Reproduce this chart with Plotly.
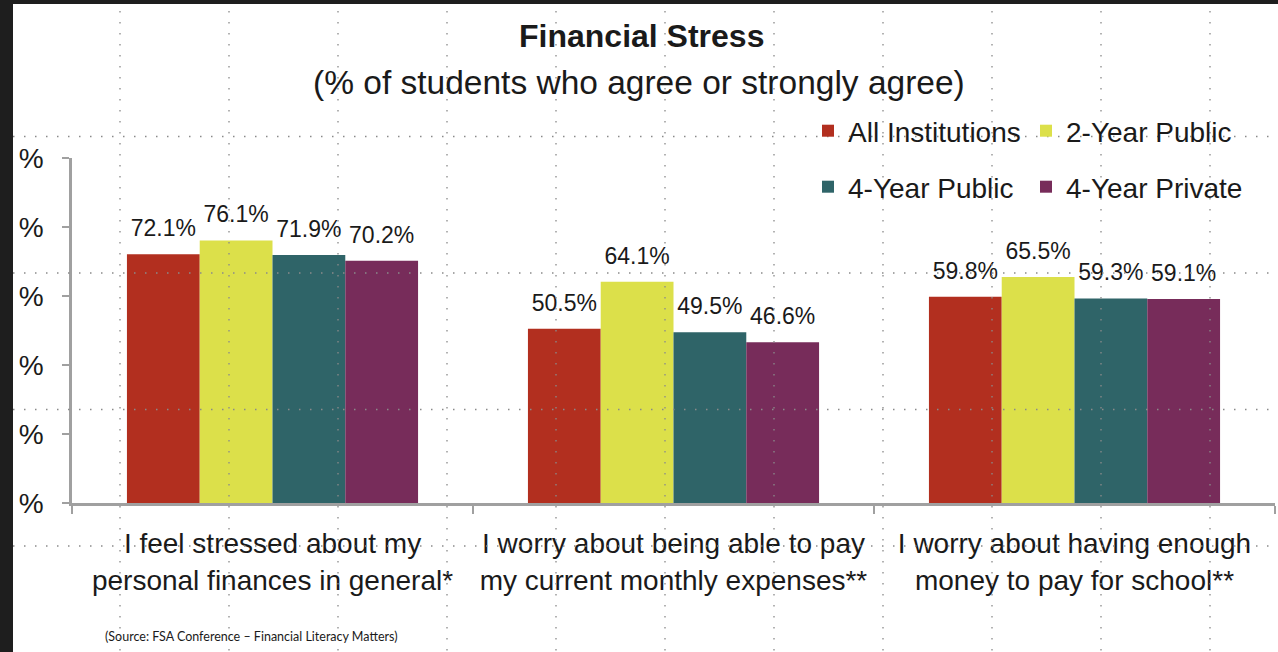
import plotly.graph_objects as go

# ---------------- data ----------------
categories = [
    "I feel stressed about my<br>personal finances in general*",
    "I worry about being able to pay<br>my current monthly expenses**",
    "I worry about having enough<br>money to pay for school**",
]
series_names = ["All Institutions", "2-Year Public", "4-Year Public", "4-Year Private"]
all_institutions = [72.1, 50.5, 59.8]
two_year_public = [76.1, 64.1, 65.5]
four_year_public = [71.9, 49.5, 59.3]
four_year_private = [70.2, 46.6, 59.1]
y_tick_vals = [0, 20, 40, 60, 80, 100]
y_tick_text = ["%", "%", "%", "%", "%", "%"]

title_text = "Financial Stress"
subtitle_text = "(% of students who agree or strongly agree)"
source_text = "(Source: FSA Conference \u2013 Financial Literacy Matters)"

# ---------------- style ----------------
W, H = 1278, 652
ML, MR, MT, MB = 72, 3, 158, 149
colors = ["#B22F1F", "#DCE04A", "#2F6468", "#772C5A"]
legend_of = ["legend", "legend", "legend2", "legend2"]
TXT = "#1A1A1A"
FONT = "Liberation Sans, Arial, sans-serif"
BARGAP = 0.274

PW = W - ML - MR
PH = H - MT - MB


def px_x(px):
    return (px - ML) / PW


def px_y(py):
    return (H - MB - py) / PH


values = [all_institutions, two_year_public, four_year_public, four_year_private]

fig = go.Figure()
for name, vals, col, lg in zip(series_names, values, colors, legend_of):
    fig.add_trace(go.Bar(
        x=categories, y=vals, name=name, legend=lg,
        marker=dict(color=col, line=dict(width=0)),
        hoverinfo="skip",
    ))
# value labels, grouped the same way as the bars
for name, vals in zip(series_names, values):
    fig.add_trace(go.Scatter(
        x=categories, y=vals, name=name + " labels", showlegend=False,
        mode="markers+text", text=[f"{v:.1f}%" for v in vals],
        textposition="top center",
        textfont=dict(family=FONT, size=23, color=TXT),
        marker=dict(size=18, color="rgba(0,0,0,0)"),
        cliponaxis=False, hoverinfo="skip",
    ))

# overlay grid of the slide (dotted)
overlay_x_px = [120, 229, 338, 447, 556, 665, 774, 883, 992, 1101, 1210]
overlay_y_px = [136.5, 273, 409.5, 546]
shapes = []
for gx in overlay_x_px:
    shapes.append(dict(type="line", xref="paper", yref="paper",
                       x0=px_x(gx), x1=px_x(gx), y0=px_y(0), y1=px_y(H),
                       line=dict(color="#8A8A8A", width=1.3, dash="1.5px,9.5px"),
                       layer="above"))
for gy in overlay_y_px:
    shapes.append(dict(type="line", xref="paper", yref="paper",
                       x0=px_x(13), x1=px_x(W), y0=px_y(gy), y1=px_y(gy),
                       line=dict(color="#8A8A8A", width=1.3, dash="1.5px,9.5px"),
                       layer="above"))
# dark frame edges of the screenshot
shapes.append(dict(type="rect", xref="paper", yref="paper",
                   x0=px_x(0), x1=px_x(13), y0=px_y(0), y1=px_y(H),
                   fillcolor="#1E1E1E", line=dict(width=0), layer="above"))
shapes.append(dict(type="rect", xref="paper", yref="paper",
                   x0=px_x(0), x1=px_x(W), y0=px_y(4), y1=px_y(0),
                   fillcolor="#1E1E1E", line=dict(width=0), layer="above"))

annotations = [
    dict(text=f"<b>{title_text}</b>", xref="paper", yref="paper",
         x=px_x(641), y=px_y(36), xanchor="center", yanchor="middle",
         showarrow=False, font=dict(family=FONT, size=32, color=TXT)),
    dict(text=subtitle_text, xref="paper", yref="paper",
         x=px_x(639), y=px_y(82), xanchor="center", yanchor="middle",
         showarrow=False, font=dict(family=FONT, size=33.5, color=TXT)),
    dict(text=source_text, xref="paper", yref="paper",
         x=px_x(251), y=px_y(636), xanchor="center", yanchor="middle",
         showarrow=False, font=dict(family="Lato, sans-serif", size=12.5, color=TXT)),
]

legend_common = dict(orientation="h", xanchor="left", yanchor="middle",
                     font=dict(family=FONT, size=28, color=TXT),
                     bgcolor="rgba(0,0,0,0)", borderwidth=0,
                     entrywidth=173, itemclick=False, itemdoubleclick=False)

fig.update_layout(
    width=W, height=H,
    margin=dict(l=ML, r=MR, t=MT, b=MB, pad=0),
    paper_bgcolor="white", plot_bgcolor="white",
    barmode="group", bargap=BARGAP, bargroupgap=0,
    scattermode="group", scattergap=BARGAP,
    showlegend=True,
    legend=dict(x=px_x(808), y=px_y(131), **legend_common),
    legend2=dict(x=px_x(808), y=px_y(187), **legend_common),
    xaxis=dict(showgrid=False, showline=True, linecolor="#A0A0A0", linewidth=2.5,
               ticks="outside", tickson="boundaries", ticklen=8, tickwidth=2,
               tickcolor="#A0A0A0", ticklabelstandoff=14,
               tickfont=dict(family=FONT, size=28, color=TXT),
               fixedrange=True),
    yaxis=dict(range=[0, 100], tickvals=y_tick_vals, ticktext=y_tick_text,
               showgrid=False, zeroline=False, showline=True,
               linecolor="#A0A0A0", linewidth=2.5,
               ticks="outside", ticklen=7, tickwidth=2, tickcolor="#A0A0A0",
               ticklabelstandoff=13,
               tickfont=dict(family=FONT, size=28, color=TXT),
               fixedrange=True),
    shapes=shapes,
    annotations=annotations,
    font=dict(family=FONT, color=TXT),
)

fig.write_html("out.html", config={"displayModeBar": False})
